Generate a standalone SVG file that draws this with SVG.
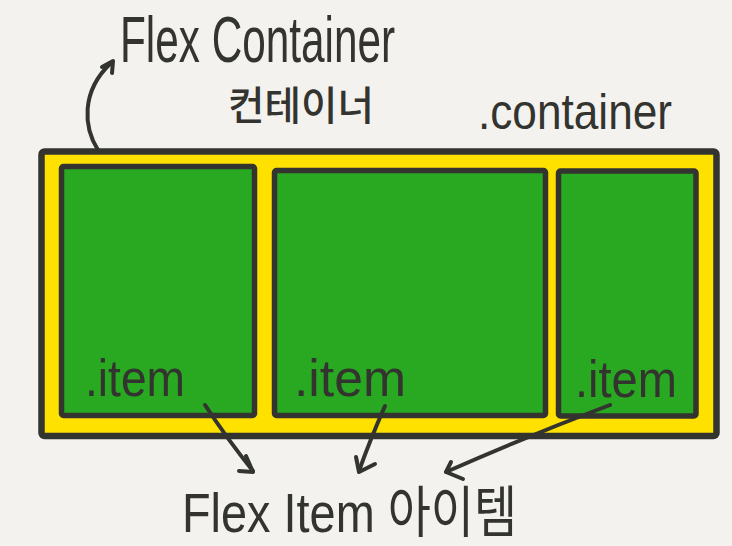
<svg xmlns="http://www.w3.org/2000/svg" width="732" height="546" viewBox="0 0 732 546">
<style>
.bg{fill:#f3f2ef}
.box{stroke:#33332f;stroke-linejoin:round}
.outer{fill:#ffe100;stroke-width:6.5}
.item{fill:#29a821;stroke-width:5.5}
.txt{font-family:"Liberation Sans","Noto Sans CJK KR",sans-serif;fill:#33332f;font-weight:normal}
.kr{font-family:"Noto Sans CJK KR",sans-serif;font-weight:500;fill:#33332f}
.con{fill:none;stroke:#33332f;stroke-width:4;stroke-linecap:round;stroke-linejoin:round}
</style>
<rect class="bg" x="0" y="0" width="732" height="546"/>
<g id="container">
  <rect class="box outer" x="41.5" y="151.5" width="675" height="284.5" rx="3"/>
  <text class="txt" x="478" y="129" font-size="50" textLength="194" lengthAdjust="spacingAndGlyphs">.container</text>
</g>
<g id="item1">
  <rect class="box item" x="61.5" y="166.5" width="193" height="249" rx="2"/>
  <text class="txt" x="85" y="396" font-size="52" textLength="100" lengthAdjust="spacingAndGlyphs">.item</text>
</g>
<g id="item2">
  <rect class="box item" x="274.5" y="170.5" width="271" height="245" rx="2"/>
  <text class="txt" x="294" y="396" font-size="52" textLength="112" lengthAdjust="spacingAndGlyphs">.item</text>
</g>
<g id="item3">
  <rect class="box item" x="558.5" y="171" width="137.5" height="245" rx="2"/>
  <text class="txt" x="575" y="397" font-size="52" textLength="102" lengthAdjust="spacingAndGlyphs">.item</text>
</g>
<g id="label-flex-container">
  <text class="txt" x="120" y="62" font-size="64" textLength="275" lengthAdjust="spacingAndGlyphs">Flex Container</text>
  <text class="kr" x="228" y="120" font-size="40" textLength="146" lengthAdjust="spacingAndGlyphs">컨테이너</text>
</g>
<g id="label-flex-item">
  <text class="txt" x="182" y="532" font-size="56" textLength="335" lengthAdjust="spacingAndGlyphs">Flex Item 아이템</text>
</g>
<g id="connectors">
  <path class="con" d="M98,150 C84,128 80,92 111,63"/>
  <path class="con" d="M102,67 L113,61 L112,73"/>
  <path class="con" d="M205,405 Q228,440 253,471"/>
  <path class="con" d="M246,456 L253,472 L239,471"/>
  <path class="con" d="M385,406 Q370,440 359,471"/>
  <path class="con" d="M356,457 L359,472 L375,464"/>
  <path class="con" d="M610,405 Q530,435 446,472"/>
  <path class="con" d="M451,462 L446,472 L463,479"/>
</g>
</svg>
